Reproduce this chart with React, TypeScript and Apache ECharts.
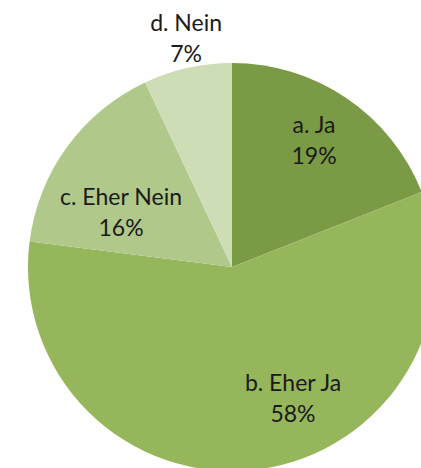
import React, { useEffect, useRef } from "react";
import * as echarts from "echarts";

const categories = ["a. Ja", "b. Eher Ja", "c. Eher Nein", "d. Nein"];
const values = [19, 58, 16, 7];
const colors = ["#7A9A45", "#95B65A", "#B0C98B", "#CDDDB6"];
// label anchor offsets relative to pie centre, in units of radius
const labelOffsets = [
  [0.402, -0.623],
  [0.299, 0.642],
  [-0.544, -0.27],
  [-0.225, -1.123],
];

const CX = 232;
const CY = 267;
const R = 204;

export default function App() {
  const ref = useRef<HTMLDivElement>(null);
  useEffect(() => {
    if (!ref.current) return;
    const chart = echarts.init(ref.current, null, { renderer: "svg" });
    chart.setOption({
      animation: false,
      backgroundColor: "#ffffff",
      series: [
        {
          type: "pie",
          center: [CX, CY],
          radius: R,
          startAngle: 90,
          clockwise: true,
          data: categories.map((name, i) => ({
            name,
            value: values[i],
            itemStyle: { color: colors[i] },
          })),
          label: {
            show: true,
            position: "inside",
            formatter: (p: any) => `${p.name}\n${p.value}%`,
            fontFamily: "Lato",
            fontSize: 23,
            lineHeight: 31,
            color: "#1a1a1a",
            align: "center",
          },
          labelLine: { show: false },
          labelLayout: (p: any) => {
            const o = labelOffsets[p.dataIndex];
            return {
              x: CX + o[0] * R,
              y: CY + o[1] * R,
              align: "center",
              verticalAlign: "middle",
            };
          },
          emphasis: { disabled: true },
        },
      ],
    });
    return () => chart.dispose();
  }, []);
  return (
    <div
      ref={ref}
      style={{ position: "fixed", left: 0, top: 0, width: 421, height: 468 }}
    />
  );
}
